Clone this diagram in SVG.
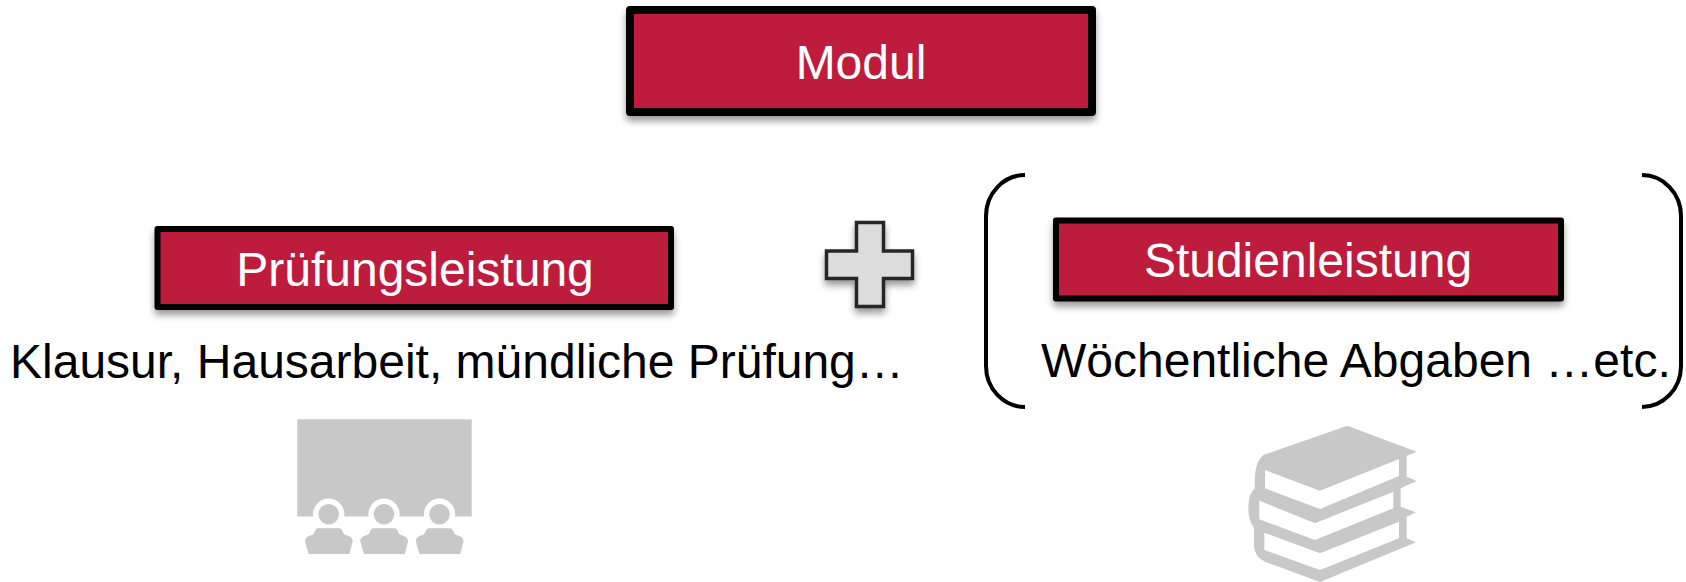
<svg xmlns="http://www.w3.org/2000/svg" width="1686" height="582" viewBox="0 0 1686 582">
<style>
text{font-family:"Liberation Sans",Arial,sans-serif;font-size:48px}
.box{fill:#BE1E3C;stroke:#000;stroke-linejoin:round}
.lbl{fill:#fff;text-anchor:middle}
.desc{fill:#000}
.brk{fill:none;stroke:#000;stroke-width:4}
.ico{fill:#c8c8c8}
.gap{fill:#fff}
</style>
<defs>
<filter id="sh" x="-10%" y="-20%" width="120%" height="150%"><feDropShadow dx="0" dy="5" stdDeviation="3.500" flood-color="#000" flood-opacity="0.4"/></filter>
<path id="person" d="M-11,14 H11 Q13,14 15.300,20 L21,22.300 Q24,24 24,27.300 L20.700,39.700 H-20 L-23.700,27.300 Q-23.700,24 -21,22.300 L-15.300,20 Q-13,14 -11,14Z"/>
</defs>
<rect width="1686" height="582" fill="#fff"/>
<g id="modul"><rect class="box" x="630" y="10" width="462" height="102" stroke-width="8" filter="url(#sh)"/><text class="lbl" x="861" y="79">Modul</text></g>
<g id="pruefungsleistung"><rect class="box" x="157.500" y="229" width="513.500" height="78" stroke-width="6" filter="url(#sh)"/><text class="lbl" x="415" y="286">Prüfungsleistung</text></g>
<text id="pruefung-desc" class="desc" x="10" y="378">Klausur, Hausarbeit, mündliche Prüfung…</text>
<g id="plus"><path d="M856.500,222.500 H883.500 V251 H912.500 V278.500 H883.500 V306.500 H856.500 V278.500 H826.500 V251 H856.500Z" fill="#dcdcdc" stroke="#262626" stroke-width="3.500" filter="url(#sh)"/></g>
<g id="studienleistung"><rect class="box" x="1056" y="220.500" width="505" height="78" stroke-width="6" filter="url(#sh)"/><text class="lbl" x="1308" y="276.500">Studienleistung</text></g>
<text id="studien-desc" class="desc" x="1041" y="377">Wöchentliche Abgaben …etc.</text>
<g id="brackets">
<path class="brk" d="M1025,175 A39,41 0 0 0 986,216 V366 A39,41 0 0 0 1025,407"/>
<path class="brk" d="M1642,175 A39,41 0 0 1 1681,216 V366 A39,41 0 0 1 1642,407"/>
</g>
<g id="icon-lecture">
<rect class="ico" x="297.300" y="419.300" width="174.400" height="97.400"/>
<g class="gap"><circle cx="328.700" cy="514.300" r="15.700"/><circle cx="384" cy="514.300" r="15.700"/><circle cx="439.500" cy="514.300" r="15.700"/><rect x="290" y="516.700" width="190" height="10"/></g>
<g class="ico">
<circle cx="328.700" cy="514.300" r="10.300"/><circle cx="384" cy="514.300" r="10.300"/><circle cx="439.500" cy="514.300" r="10.300"/>
<use href="#person" x="328.700" y="514.300"/><use href="#person" x="384" y="514.300"/><use href="#person" x="439.500" y="514.300"/>
</g>
</g>
<g id="icon-books" transform="translate(1230 410) scale(.33333)">
<path class="ico" d="M352,47 L560,125 L530,137 V200 L560,213 L512,235 V290 L558,307 L530,320 V385 L558,397 L270,516 L105,455 Q75,440 72,410 V355 Q55,330 55,295 Q55,250 75,235 Q70,160 100,135Z"/>
<path class="gap" d="M105,180 L270,242 L507,147 V198 L270,297 L105,235Z M88,272 L255,340 L490,245 V295 L255,390 L88,328Z M103,368 L270,430 L507,335 V385 L270,480 L103,420Z"/>
</g>
</svg>
